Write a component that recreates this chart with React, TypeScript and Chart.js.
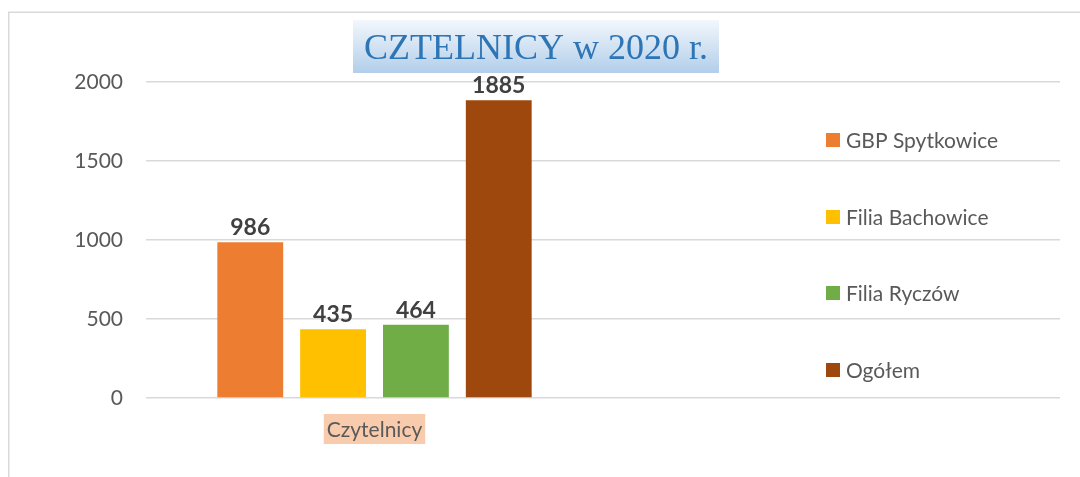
import React, { useEffect, useRef } from "react";
import { Chart, registerables } from "chart.js";

Chart.register(...registerables);

// ---- data ----
const categories = ["Czytelnicy", ""];
const seriesNames = ["GBP Spytkowice", "Filia Bachowice", "Filia Ryczów", "Ogółem"];
const gbpSpytkowice: (number | null)[] = [986, null];
const filiaBachowice: (number | null)[] = [435, null];
const filiaRyczow: (number | null)[] = [464, null];
const ogolem: (number | null)[] = [1885, null];
const seriesColors = ["#ED7D31", "#FFC000", "#70AD47", "#9E480E"];
const yTicks = [0, 500, 1000, 1500, 2000];
const titleText = "CZTELNICY w 2020 r.";

const FONT = "Lato, 'Open Sans', sans-serif";

const decorPlugin = {
  id: "decor",
  beforeDraw(chart: any) {
    const ctx = chart.ctx;
    ctx.save();
    ctx.fillStyle = "#ffffff";
    ctx.fillRect(0, 0, chart.width, chart.height);
    ctx.strokeStyle = "#d9d9d9";
    ctx.lineWidth = 1.5;
    ctx.beginPath();
    ctx.moveTo(8.75, chart.height);
    ctx.lineTo(8.75, 12.25);
    ctx.lineTo(chart.width, 12.25);
    ctx.stroke();
    ctx.restore();
  },
  afterDatasetsDraw(chart: any) {
    const ctx = chart.ctx;
    ctx.save();
    ctx.font = `bold 23px ${FONT}`;
    ctx.fillStyle = "#404040";
    ctx.textAlign = "center";
    ctx.textBaseline = "alphabetic";
    chart.data.datasets.forEach((ds: any, di: number) => {
      const meta = chart.getDatasetMeta(di);
      meta.data.forEach((el: any, i: number) => {
        const v = ds.data[i];
        if (v === null || v === undefined) return;
        ctx.fillText(String(v), el.x, el.y - 7);
      });
    });
    ctx.restore();
  },
  afterDraw(chart: any) {
    const ctx = chart.ctx;
    ctx.save();
    // title box
    const bx = 353, by = 20, bw = 366, bh = 53;
    const g = ctx.createLinearGradient(0, by, 0, by + bh);
    g.addColorStop(0, "#f2f7fc");
    g.addColorStop(1, "#b2ceea");
    ctx.fillStyle = g;
    ctx.fillRect(bx, by, bw, bh);
    ctx.fillStyle = "#2E75B6";
    ctx.font = `36px "Liberation Serif", serif`;
    ctx.textAlign = "center";
    ctx.textBaseline = "alphabetic";
    ctx.fillText(titleText, bx + bw / 2, 59);

    // category label with backdrop
    const xs = chart.scales.x;
    const cx = xs.getPixelForValue(0);
    ctx.font = `21px ${FONT}`;
    const tw = ctx.measureText(categories[0]).width;
    const boxW = tw + 6;
    ctx.fillStyle = "#F8CBAD";
    ctx.fillRect(cx - boxW / 2, 414, boxW, 30);
    ctx.fillStyle = "#595959";
    ctx.textBaseline = "middle";
    ctx.fillText(categories[0], cx, 430);

    // legend
    const rows = [140, 217, 293, 370];
    ctx.textAlign = "left";
    ctx.font = `21px ${FONT}`;
    seriesNames.forEach((name, i) => {
      ctx.fillStyle = seriesColors[i];
      ctx.fillRect(826, rows[i] - 7, 14, 14);
      ctx.fillStyle = "#595959";
      ctx.fillText(name, 846, rows[i] + 1);
    });
    ctx.restore();
  },
};

export default function App() {
  const ref = useRef<HTMLCanvasElement | null>(null);
  useEffect(() => {
    if (!ref.current) return;
    const seriesData = [gbpSpytkowice, filiaBachowice, filiaRyczow, ogolem];
    const chart = new Chart(ref.current, {
      type: "bar",
      data: {
        labels: categories,
        datasets: seriesNames.map((name, i) => ({
          label: name,
          data: seriesData[i],
          backgroundColor: seriesColors[i],
          borderWidth: 0,
          barPercentage: 0.795,
          categoryPercentage: 0.725,
        })),
      },
      options: {
        responsive: false,
        animation: false,
        layout: { padding: { top: 82, right: 20, left: 0, bottom: 0 } },
        plugins: {
          legend: { display: false },
          title: { display: false },
          tooltip: { enabled: false },
        },
        scales: {
          x: {
            type: "category",
            grid: { display: false },
            border: { display: false },
            ticks: { display: false },
            afterFit: (s: any) => {
              s.height = 477 - 398;
            },
          },
          y: {
            min: 0,
            max: 2000,
            afterBuildTicks: (s: any) => {
              s.ticks = yTicks.map((v) => ({ value: v }));
            },
            grid: { color: "#d9d9d9", lineWidth: 1.5, drawTicks: false },
            border: { display: false },
            ticks: {
              font: { family: FONT, size: 21 },
              color: "#595959",
              padding: 23,
              callback: (v: any) => String(v),
            },
            afterFit: (s: any) => {
              s.width = 146;
            },
          },
        },
      } as any,
      plugins: [decorPlugin],
    });
    return () => chart.destroy();
  }, []);
  return (
    <div style={{ position: "fixed", left: 0, top: 0, width: 1080, height: 477, background: "#fff" }}>
      <canvas ref={ref} width={1080} height={477} style={{ display: "block", width: 1080, height: 477 }} />
    </div>
  );
}
